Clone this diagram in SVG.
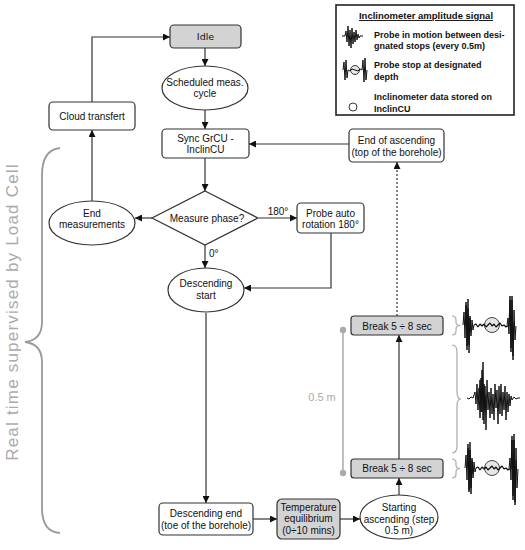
<svg xmlns="http://www.w3.org/2000/svg" width="525" height="550" viewBox="0 0 525 550">
<defs>
<marker id="ah" viewBox="0 0 10 10" refX="10" refY="5" markerWidth="7" markerHeight="7" markerUnits="userSpaceOnUse" orient="auto"><path d="M0,0 L10,5 L0,10 z" fill="#111"/></marker>
<style>
.n{fill:#fff;stroke:#333;stroke-width:1.2}
.g{fill:#d3d3d3;stroke:#333;stroke-width:1.2}
.t{font-family:"Liberation Sans",Arial,sans-serif;font-size:10px;fill:#111;text-anchor:middle}
.c{fill:none;stroke:#333;stroke-width:1.2}
.lb{font-family:"Liberation Sans",Arial,sans-serif;font-size:9px;font-weight:bold;fill:#111}
.gr{fill:none;stroke:#999;stroke-width:1.8}
.sig{fill:none;stroke:#111;stroke-width:1;stroke-linejoin:bevel}
.br{fill:none;stroke:#aaa;stroke-width:1.2}
</style>
</defs>
<rect width="525" height="550" fill="#fff"/>

<!-- legend -->
<g id="legend">
<rect x="336" y="5" width="178" height="110" fill="#fff" stroke="#222" stroke-width="1.6"/>
<text x="426" y="19" class="lb" text-anchor="middle" text-decoration="underline" style="font-size:9.5px">Inclinometer amplitude signal</text>
<polyline class="sig" points="342,36 345,36 346,31 347,42 348,26 349,46 350,30 351,48 352,28 353,44 354,32 355,42 356,30 357,40 358,34 359,38 360,36 363,36"/>
<text x="374" y="38" class="lb">Probe in motion between desi-</text>
<text x="374" y="49" class="lb">gnated stops (every 0.5m)</text>
<circle cx="355" cy="70" r="4.5" fill="#e6e6e6" stroke="#222" stroke-width="0.9"/>
<polyline class="sig" points="343,70 344,62 345,80 346,60 347,78 348,70 350,71 352,69 355,70 358,71 360,69 362,70 363,60 364,82 365,58 366,80 367,70"/>
<text x="374" y="68" class="lb">Probe stop at designated</text>
<text x="374" y="80" class="lb">depth</text>
<circle cx="353" cy="107" r="4" fill="#fff" stroke="#222" stroke-width="0.9"/>
<text x="374" y="100" class="lb">Inclinometer data stored on</text>
<text x="374" y="112" class="lb">InclinCU</text>
</g>

<!-- side brace and label -->
<g id="supervision">
<path class="gr" d="M60,148 Q42,150 42,175 L42,322 Q42,340 25,342 Q42,344 42,362 L42,508 Q42,532 60,533"/>
<text transform="translate(18,312) rotate(-90)" text-anchor="middle" style="font-family:'Liberation Sans',Arial,sans-serif;font-size:17px;letter-spacing:1.2px;fill:#aaa">Real time supervised by Load Cell</text>
</g>

<!-- 0.5 m scale -->
<g id="scale">
<line x1="343" y1="330" x2="343" y2="473" stroke="#aaa" stroke-width="1.5"/>
<circle cx="343" cy="330" r="3.2" fill="#aaa"/>
<circle cx="343" cy="473" r="3.2" fill="#aaa"/>
<text x="322" y="401" text-anchor="middle" style="font-family:'Liberation Sans',Arial,sans-serif;font-size:11px;fill:#aaa">0.5 m</text>
</g>

<!-- right braces -->
<g id="braces">
<path class="br" d="M452,316 Q456,316 456,320 L456,322 Q456,325.5 460,325.5 Q456,325.5 456,329 L456,331 Q456,335 452,335"/>
<path class="br" d="M452,345 Q457,345 457,352 L457,392 Q457,399 461,399 Q457,399 457,406 L457,446 Q457,453 452,453"/>
<path class="br" d="M452,459 Q456,459 456,463 L456,465 Q456,468.5 460,468.5 Q456,468.5 456,472 L456,474 Q456,478 452,478"/>
</g>

<!-- signal glyphs -->
<g id="signal-top">
<circle cx="492" cy="325" r="7.5" fill="#e6e6e6" stroke="#333" stroke-width="0.9"/>
<polyline class="sig" points="463,325 464,312 465,338 466,302 467,350 468,308 469,345 470,316 471,336 472,320 473,330 474,325"/>
<polyline class="sig" points="465,325 466,305 467,346 468,299 469,353 470,318 471,332"/>
<polyline class="sig" style="stroke-width:1.3" points="474,325 476,324 478,327 480,324 482,326 484,324 486,327 488,325 490,323 492,326 494,324 496,327 498,325 500,323 502,326 504,325 506,327 508,326"/>
<polyline class="sig" points="507,326 508,318 509,334 510,300 511,352 512,296 513,360 514,310 515,340 516,326"/>
<polyline class="sig" points="509,326 510,296 511,348 512,300 513,356 514,322"/>
</g>
<g id="signal-motion">
<polyline class="sig" points="467,398 469,399 471,397 473,398 475,392 476,404 477,384 478,410 479,388 480,418 481,378 482,412 483,362 484,424 485,386 486,430 487,380 488,410 489,392 490,418 491,388 492,414 493,394 494,420 495,384 496,408 497,390 498,424 499,386 500,414 501,384 502,416 503,392 504,410 505,386 506,420 507,392 508,412 509,394 510,406 511,396 512,400 514,397 516,399 518,398 520,398"/>
<polyline class="sig" points="479,398 480,380 481,412 482,370 483,420 484,384 485,408 486,395"/>
</g>
<g id="signal-bottom">
<circle cx="492" cy="468" r="7.5" fill="#e6e6e6" stroke="#333" stroke-width="0.9"/>
<polyline class="sig" points="465,468 466,455 467,480 468,444 469,492 470,450 471,488 472,458 473,478 474,462 475,472 476,468"/>
<polyline class="sig" points="467,468 468,448 469,490 470,442 471,494 472,460 473,474"/>
<polyline class="sig" style="stroke-width:1.3" points="476,468 478,467 480,470 482,467 484,469 486,467 488,470 490,468 492,466 494,469 496,467 498,470 500,468 502,466 504,469 506,468 508,470 510,469"/>
<polyline class="sig" points="509,469 510,458 511,480 512,440 513,496 514,434 515,505 516,448 517,488 518,469"/>
<polyline class="sig" points="511,469 512,436 513,500 514,440 515,502 516,460"/>
</g>

<!-- connectors -->
<g id="connectors">
<line class="c" x1="205" y1="48" x2="205" y2="66" marker-end="url(#ah)"/>
<line class="c" x1="205" y1="110" x2="205" y2="129" marker-end="url(#ah)"/>
<line class="c" x1="205" y1="158" x2="205" y2="191" marker-end="url(#ah)"/>
<line class="c" x1="152" y1="218" x2="135" y2="218" marker-end="url(#ah)"/>
<line class="c" x1="92" y1="201" x2="92" y2="130" marker-end="url(#ah)"/>
<polyline class="c" points="92,102 92,37 170,37" marker-end="url(#ah)"/>
<line class="c" x1="259" y1="218" x2="297" y2="218" marker-end="url(#ah)"/>
<text x="278" y="215" class="t">180°</text>
<polyline class="c" points="331,233 331,288 244,288" marker-end="url(#ah)"/>
<line class="c" x1="205" y1="245" x2="205" y2="268" marker-end="url(#ah)"/>
<text x="209" y="257" class="t" style="text-anchor:start">0°</text>
<line class="c" x1="206" y1="313" x2="206" y2="503" marker-end="url(#ah)"/>
<line class="c" x1="253" y1="519" x2="277" y2="519" marker-end="url(#ah)"/>
<line class="c" x1="340" y1="519" x2="360" y2="519" marker-end="url(#ah)"/>
<line class="c" x1="399" y1="495" x2="399" y2="478" marker-end="url(#ah)"/>
<line class="c" x1="399" y1="459" x2="399" y2="335" marker-end="url(#ah)"/>
<line class="c" x1="397" y1="316" x2="397" y2="162" stroke-dasharray="2,2" marker-end="url(#ah)"/>
<line class="c" x1="349" y1="144" x2="249" y2="144" marker-end="url(#ah)"/>
</g>

<!-- nodes -->
<g id="idle">
<rect class="g" x="170" y="25" width="71" height="23" rx="4"/>
<text x="205.5" y="40" class="t" style="font-family:'DejaVu Sans',sans-serif;font-size:9.5px">Idle</text>
</g>
<g id="scheduled">
<ellipse class="n" cx="205" cy="88" rx="43" ry="22"/>
<text x="205" y="86" class="t">Scheduled meas.</text>
<text x="205" y="97" class="t">cycle</text>
</g>
<g id="sync">
<rect class="n" x="162" y="129" width="87" height="29" rx="4"/>
<text x="205.5" y="142" class="t">Sync GrCU -</text>
<text x="205.5" y="153" class="t">InclinCU</text>
</g>
<g id="cloud">
<rect class="n" x="49" y="102" width="86" height="28" rx="4"/>
<text x="92" y="120" class="t">Cloud transfert</text>
</g>
<g id="end-ascending">
<rect class="n" x="349" y="129" width="95" height="33" rx="4"/>
<text x="396.5" y="144" class="t">End of ascending</text>
<text x="396.5" y="156" class="t">(top of the borehole)</text>
</g>
<g id="measure-phase">
<polygon class="n" points="205,191 258,218 205,245 152,218"/>
<text x="207" y="221.5" class="t">Measure phase?</text>
</g>
<g id="end-measurements">
<ellipse class="n" cx="92" cy="223" rx="43" ry="22"/>
<text x="92" y="216.5" class="t">End</text>
<text x="92" y="228" class="t">measurements</text>
</g>
<g id="probe-rotation">
<rect class="n" x="297" y="203" width="67" height="30" rx="4"/>
<text x="330.5" y="216.5" class="t">Probe auto</text>
<text x="330.5" y="227.5" class="t">rotation 180°</text>
</g>
<g id="descending-start">
<ellipse class="n" cx="206" cy="290" rx="38" ry="22"/>
<text x="206" y="287" class="t">Descending</text>
<text x="206" y="298.5" class="t">start</text>
</g>
<g id="descending-end">
<rect class="n" x="159" y="503" width="94" height="32" rx="4"/>
<text x="206" y="517" class="t">Descending end</text>
<text x="206" y="528.5" class="t">(toe of the borehole)</text>
</g>
<g id="temperature">
<rect class="g" x="277" y="499" width="63" height="40" rx="5"/>
<text x="308.5" y="510.5" class="t">Temperature</text>
<text x="308.5" y="522" class="t">equilibrium</text>
<text x="308.5" y="534" class="t">(0÷10 mins)</text>
</g>
<g id="starting-ascending">
<ellipse class="n" cx="399" cy="517" rx="39" ry="22"/>
<text x="399" y="511" class="t">Starting</text>
<text x="399" y="522.5" class="t">ascending (step</text>
<text x="399" y="533.5" class="t">0.5 m)</text>
</g>
<g id="break-lower">
<rect class="g" x="351" y="459" width="92" height="19" rx="3"/>
<text x="397" y="472" class="t">Break 5 ÷ 8 sec</text>
</g>
<g id="break-upper">
<rect class="g" x="351" y="316" width="92" height="19" rx="3"/>
<text x="397" y="329.5" class="t">Break 5 ÷ 8 sec</text>
</g>
</svg>
